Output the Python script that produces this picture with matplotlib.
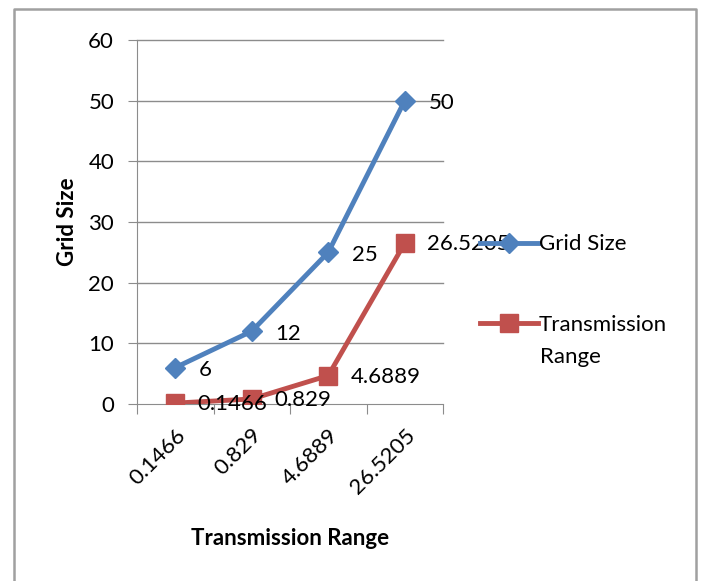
import matplotlib.pyplot as plt
import matplotlib.transforms as mtransforms
from matplotlib.lines import Line2D

plt.rcParams['font.family'] = ['Lato', 'DejaVu Sans']

categories = ['0.1466', '0.829', '4.6889', '26.5205']
grid_size = [6, 12, 25, 50]
trans_range = [0.1466, 0.829, 4.6889, 26.5205]
grid_labels = ['6', '12', '25', '50']
trans_labels = ['0.1466', '0.829', '4.6889', '26.5205']

blue = '#4F81BD'
red = '#C0504D'
grey = '#8c8c8c'
fs = 16

fig = plt.figure(figsize=(7.02, 5.81), dpi=100)
ax = fig.add_axes([137 / 702, 1 - 404 / 581, 306 / 702, 364 / 581])

x = range(len(categories))
ax.plot(x, grid_size, color=blue, lw=3.5, marker='D', ms=10, label='Grid Size', zorder=3)
ax.plot(x, trans_range, color=red, lw=3.5, marker='s', ms=13, label='Transmission', zorder=3)

for i, t in enumerate(grid_labels):
    ax.annotate(t, (i, grid_size[i]), xytext=(17, -2), textcoords='offset points',
                va='center', ha='left', fontsize=fs)
for i, t in enumerate(trans_labels):
    ax.annotate(t, (i, trans_range[i]), xytext=(16, -1), textcoords='offset points',
                va='center', ha='left', fontsize=fs)

ax.set_xlim(-0.5, 3.5)
ax.set_ylim(0, 60)
ax.set_yticks(range(0, 61, 10))
ax.set_xticks([i + 0.5 for i in range(-1, 4)])
ax.set_xticklabels([])
ax.set_xticks(list(x), minor=True)
ax.set_xticklabels(categories, minor=True, rotation=45, ha='right', rotation_mode='anchor', fontsize=fs)
shift = mtransforms.ScaledTranslation(0.06, 0, fig.dpi_scale_trans)
for lab in ax.get_xticklabels(minor=True):
    lab.set_transform(lab.get_transform() + shift)
ax.tick_params(axis='x', which='minor', length=0, pad=15)
ax.tick_params(axis='x', which='major', length=7, color=grey, direction='out')
ax.tick_params(axis='y', length=6.5, color=grey, labelsize=fs, pad=10)

for v in range(10, 61, 10):
    ax.axhline(v, color=grey, lw=1, zorder=1, clip_on=False)
for s in ['top', 'right']:
    ax.spines[s].set_visible(False)
for s in ['left', 'bottom']:
    ax.spines[s].set_color(grey)

ax.set_ylabel('Grid Size', fontsize=fs, fontweight='bold', labelpad=7)
ax.set_xlabel('Transmission Range', fontsize=fs, fontweight='bold', labelpad=22)

ax.legend(loc='center left', bbox_to_anchor=(1.091, 0.328), frameon=False, fontsize=fs,
          handlelength=2.6, labelspacing=2.72, handletextpad=0.05, borderaxespad=0)
ax.text(1.317, 0.13, 'Range', transform=ax.transAxes, fontsize=fs, va='center', ha='left')

# outer chart border (open at the bottom)
fig.add_artist(Line2D([14 / 702, 14 / 702, 696 / 702, 696 / 702], [0, 1 - 9 / 581, 1 - 9 / 581, 0],
                      transform=fig.transFigure, color='#a0a0a0', lw=1.8))

fig.savefig('out.png', dpi=100)
